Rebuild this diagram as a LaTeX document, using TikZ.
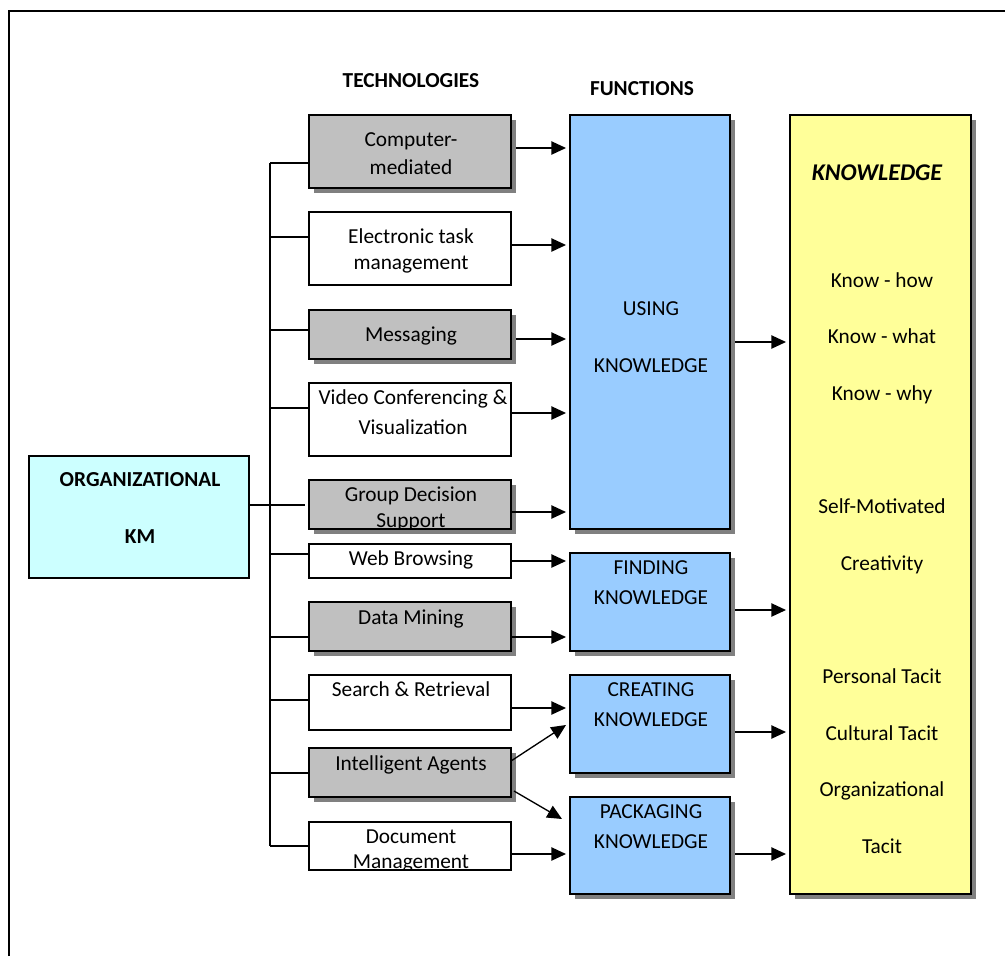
\documentclass[tikz,border=0pt]{standalone}
\usepackage{fontspec}
\setmainfont{Carlito}
\usetikzlibrary{shadows,arrows.meta,fit,calc}
\definecolor{boxgray}{HTML}{C0C0C0}
\definecolor{shadowgray}{HTML}{808080}
\definecolor{funcblue}{HTML}{99CCFF}
\definecolor{knowyellow}{HTML}{FFFF99}
\definecolor{kmcyan}{HTML}{CCFFFF}
\begin{document}
\begin{tikzpicture}[x=0.75pt,y=-0.75pt,
  box/.style={draw=black, line width=1.4pt, inner sep=0pt, outer sep=0pt},
  shad/.style={drop shadow={shadow xshift=4pt,shadow yshift=-4pt,fill=shadowgray,opacity=1}},
  techg/.style={box,fill=boxgray,shad},
  techw/.style={box,fill=white},
  func/.style={box,fill=funcblue,shad},
  know/.style={box,fill=knowyellow,shad},
  km/.style={box,fill=kmcyan},
  txt/.style={anchor=base,inner sep=0pt,font=\fontsize{16}{19}\selectfont},
  btxt/.style={anchor=base,inner sep=0pt,font=\fontsize{16}{19}\selectfont\bfseries},
  link/.style={line width=1pt},
  arr/.style={line width=1pt,-{Triangle[length=11pt,width=10pt]}}
]
\useasboundingbox (0,0) rectangle (1005,956);
% outer frame
\draw[line width=2.2pt] (9,956) -- (9,11) -- (1005,11);

% headings
\node[btxt] (hTech) at (411,87) {TECHNOLOGIES};
\node[btxt] (hFunc) at (642,95) {FUNCTIONS};

% technology boxes
\node[techg, fit={(309,115) (511,188)}] (cm) {};
\node[techw, fit={(309,212) (511,285)}] (et) {};
\node[techg, fit={(309,310) (511,359)}] (msg) {};
\node[techw, fit={(309,383) (511,456)}] (vc) {};
\node[techg, fit={(309,480) (511,529)}] (gd) {};
\node[techw, fit={(309,544) (511,578)}] (wb) {};
\node[techg, fit={(309,602) (511,651)}] (dm) {};
\node[techw, fit={(309,675) (511,730)}] (sr) {};
\node[techg, fit={(309,748) (511,797)}] (ia) {};
\node[techw, fit={(309,822) (511,870)}] (dmg) {};

% KM box
\node[km, fit={(29,456) (249,578)}] (kmb) {};

% function boxes
\node[func, fit={(570,115) (730,529)}] (using) {};
\node[func, fit={(570,553) (730,651)}] (finding) {};
\node[func, fit={(570,675) (730,773)}] (creating) {};
\node[func, fit={(570,797) (730,894)}] (packaging) {};

% knowledge box
\node[know, fit={(790,115) (971,894)}] (knowb) {};

% texts in technology boxes
\node[txt] (t1a) at (411,146) {Computer-};
\node[txt] (t1b) at (411,174) {mediated};
\node[txt] (t2a) at (411,243) {Electronic task};
\node[txt] (t2b) at (411,269) {management};
\node[txt] (t3) at (411,341) {Messaging};
\node[txt] (t4a) at (413,404) {Video Conferencing \&};
\node[txt] (t4b) at (413,434) {Visualization};
\node[txt] (t5a) at (411,501) {Group Decision};
\begin{scope}
  \clip (309,480) rectangle (511,528);
  \node[txt] (t5b) at (411,527) {Support};
\end{scope}
\node[txt] (t6) at (411,565) {Web Browsing};
\node[txt] (t7) at (411,624) {Data Mining};
\node[txt] (t8) at (411,696) {Search \& Retrieval};
\node[txt] (t9) at (411,770) {Intelligent Agents};
\node[txt] (t10a) at (411,843) {Document};
\begin{scope}
  \clip (309,822) rectangle (511,869);
  \node[txt] (t10b) at (411,868) {Management};
\end{scope}

% KM text
\node[btxt] (kmA) at (140,486) {ORGANIZATIONAL};
\node[btxt] (kmB) at (140,543) {KM};

% function texts
\node[txt] (fu1) at (651,315) {USING};
\node[txt] (fu2) at (651,372) {KNOWLEDGE};
\node[txt] (ff1) at (651,574) {FINDING};
\node[txt] (ff2) at (651,604) {KNOWLEDGE};
\node[txt] (fc1) at (651,696) {CREATING};
\node[txt] (fc2) at (651,726) {KNOWLEDGE};
\node[txt] (fp1) at (651,818) {PACKAGING};
\node[txt] (fp2) at (651,848) {KNOWLEDGE};

% knowledge texts
\node[anchor=base,inner sep=0pt,font=\fontsize{18}{21}\selectfont\bfseries\itshape] (kh) at (877,180) {KNOWLEDGE};
\node[txt] (k1) at (882,287) {Know - how};
\node[txt] (k2) at (882,343) {Know - what};
\node[txt] (k3) at (882,400) {Know - why};
\node[txt] (k4) at (882,513) {Self-Motivated};
\node[txt] (k5) at (882,570) {Creativity};
\node[txt] (k6) at (882,683) {Personal Tacit};
\node[txt] (k7) at (882,740) {Cultural Tacit};
\node[txt] (k8) at (882,796) {Organizational};
\node[txt] (k9) at (882,853) {Tacit};

% bus
\coordinate (bt) at (270,163);
\coordinate (bb) at (270,846);
\draw[link] (bt) -- (bb);
\draw[link] (bt) -- (cm.west |- bt);
\draw[link] (270,237) -- (et.west |- 0,237);
\draw[link] (270,330) -- (msg.west |- 0,330);
\draw[link] (270,408) -- (vc.west |- 0,408);
\draw[link] (kmb.east |- 0,505) -- ($(gd.west |- 0,505)+(-4,0)$);
\draw[link] (270,554) -- (wb.west |- 0,554);
\draw[link] (270,637) -- (dm.west |- 0,637);
\draw[link] (270,700) -- (sr.west |- 0,700);
\draw[link] (270,773) -- (ia.west |- 0,773);
\draw[link] (bb) -- (dmg.west |- bb);

% arrows tech -> functions
\draw[arr] ($(cm.east |- 0,148)+(5,0)$) -- ($(using.west |- 0,148)+(-4,0)$);
\draw[arr] (et.east |- 0,245) -- ($(using.west |- 0,245)+(-4,0)$);
\draw[arr] ($(msg.east |- 0,339)+(5,0)$) -- ($(using.west |- 0,339)+(-4,0)$);
\draw[arr] (vc.east |- 0,413) -- ($(using.west |- 0,413)+(-4,0)$);
\draw[arr] (gd.east |- 0,512) -- ($(using.west |- 0,512)+(-4,0)$);
\draw[arr] (wb.east |- 0,561) -- ($(finding.west |- 0,561)+(-4,0)$);
\draw[arr] (dm.east |- 0,637) -- ($(finding.west |- 0,637)+(-4,0)$);
\draw[arr] (sr.east |- 0,708) -- ($(creating.west |- 0,708)+(-4,0)$);
\draw[arr] (ia.east |- 0,761) -- ($(creating.west |- 0,725)+(-4,0)$);
\draw[arr] ($(ia.east |- 0,791)+(3,0)$) -- ($(packaging.west |- 0,819)+(-8,0)$);
\draw[arr] (dmg.east |- 0,854) -- ($(packaging.west |- 0,854)+(-4,0)$);

% arrows functions -> knowledge
\draw[arr] ($(using.east |- 0,342)+(5,0)$) -- ($(knowb.west |- 0,342)+(-4,0)$);
\draw[arr] ($(finding.east |- 0,610)+(5,0)$) -- ($(knowb.west |- 0,610)+(-4,0)$);
\draw[arr] ($(creating.east |- 0,732)+(5,0)$) -- ($(knowb.west |- 0,732)+(-4,0)$);
\draw[arr] ($(packaging.east |- 0,854)+(5,0)$) -- ($(knowb.west |- 0,854)+(-4,0)$);
\end{tikzpicture}
\end{document}
